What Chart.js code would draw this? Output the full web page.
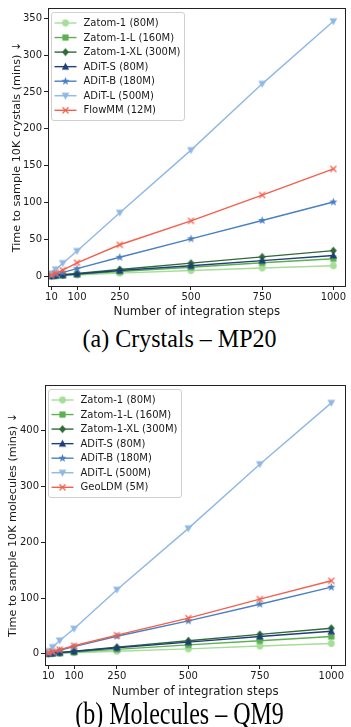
<!DOCTYPE html>
<html>
<head>
<meta charset="utf-8">
<script src="https://cdn.jsdelivr.net/npm/chart.js@4/dist/chart.umd.min.js"></script>
<style>
  html, body { margin: 0; padding: 0; background: #fff; }
  body { width: 351px; height: 727px; position: relative; overflow: hidden; }
  .box { position: absolute; left: 0; width: 351px; }
  .cap { position: absolute; left: 0; width: 359px; text-align: center;
         font-family: "Liberation Serif", "Times New Roman", serif; font-size: 24px;
         line-height: 28px; color: #000; white-space: nowrap; transform-origin: 50% 22px; }
</style>
</head>
<body>
<div class="box" style="top:0;height:322px"><canvas id="c1"></canvas></div>
<div class="cap" style="top:325px;transform:scaleY(1.08)">(a) Crystals – MP20</div>
<div class="box" style="top:370px;height:332px"><canvas id="c2"></canvas></div>
<div class="cap" style="top:702px;transform:scaleY(1.3)">(b) Molecules – QM9</div>
<script>
// ---------- data ----------
const steps = [10, 25, 50, 100, 250, 500, 750, 1000];
const xTickValues = [10, 100, 250, 500, 750, 1000];

const crystalLabels = ["Zatom-1 (80M)", "Zatom-1-L (160M)", "Zatom-1-XL (300M)", "ADiT-S (80M)", "ADiT-B (180M)", "ADiT-L (500M)", "FlowMM (12M)"];
const crysZatom1   = [0.2, 0.4, 0.8, 1.5, 4, 7.5, 11, 14];
const crysZatom1L  = [0.3, 0.6, 1.2, 2.4, 6, 12, 18, 23.5];
const crysZatom1XL = [0.4, 0.9, 1.8, 3.5, 9, 17.5, 26, 34.5];
const crysAditS    = [0.3, 0.7, 1.4, 2.8, 7.5, 14, 21, 28];
const crysAditB    = [1, 2.5, 5, 10, 25.5, 50.5, 75.5, 100.5];
const crysAditL    = [3.5, 9, 17.5, 34, 86, 171, 261, 346];
const crysFlowMM   = [1.5, 4, 8, 18, 42.5, 75, 110, 145.5];
const crysYTicks   = [0, 50, 100, 150, 200, 250, 300, 350];

const moleculeLabels = ["Zatom-1 (80M)", "Zatom-1-L (160M)", "Zatom-1-XL (300M)", "ADiT-S (80M)", "ADiT-B (180M)", "ADiT-L (500M)", "GeoLDM (5M)"];
const molZatom1   = [0.2, 0.5, 1, 2, 4.7, 9, 14, 18.5];
const molZatom1L  = [0.3, 0.8, 1.6, 3.2, 8, 16, 23.5, 31];
const molZatom1XL = [0.5, 1.2, 2.4, 4.8, 12, 23.5, 35, 46];
const molAditS    = [0.4, 1, 2.1, 4.2, 11, 21, 31, 40.5];
const molAditB    = [1.2, 3, 6.5, 13, 31.5, 59, 89, 119.5];
const molAditL    = [5, 12, 24, 45, 115, 225, 340, 450];
const molGeoLDM   = [2, 4, 7.5, 14.5, 33.5, 64, 98, 131];
const molYTicks   = [0, 100, 200, 300, 400];

// ---------- styles ----------
const seriesColors = ["#a6dd98", "#5cb04f", "#2f6a38", "#1f3f78", "#4a7fc3", "#8fb8e3", "#f4604c"];
const seriesMarkers = ["circle", "square", "diamond", "triangle", "star", "tridown", "x"];

function makeMarker(type, color) {
  const s = 11, c = s / 2;
  const cv = document.createElement("canvas");
  cv.width = s; cv.height = s;
  const g = cv.getContext("2d");
  g.fillStyle = color; g.strokeStyle = color;
  g.beginPath();
  if (type === "circle") {
    g.arc(c, c, 3.4, 0, Math.PI * 2); g.fill();
  } else if (type === "square") {
    g.rect(c - 3.1, c - 3.1, 6.2, 6.2); g.fill();
  } else if (type === "diamond") {
    g.moveTo(c, c - 4); g.lineTo(c + 3.5, c); g.lineTo(c, c + 4); g.lineTo(c - 3.5, c); g.closePath(); g.fill();
  } else if (type === "triangle") {
    g.moveTo(c, c - 3.9); g.lineTo(c + 3.7, c + 2.9); g.lineTo(c - 3.7, c + 2.9); g.closePath(); g.fill();
  } else if (type === "tridown") {
    g.moveTo(c, c + 3.9); g.lineTo(c + 3.9, c - 3); g.lineTo(c - 3.9, c - 3); g.closePath(); g.fill();
  } else if (type === "star") {
    for (let i = 0; i < 10; i++) {
      const r = i % 2 === 0 ? 4.3 : 1.8;
      const a = -Math.PI / 2 + i * Math.PI / 5;
      const px = c + r * Math.cos(a), py = c + r * Math.sin(a);
      if (i === 0) g.moveTo(px, py); else g.lineTo(px, py);
    }
    g.closePath(); g.fill();
  } else if (type === "x") {
    g.lineWidth = 1.3;
    g.moveTo(c - 3, c - 3); g.lineTo(c + 3, c + 3);
    g.moveTo(c + 3, c - 3); g.lineTo(c - 3, c + 3); g.stroke();
  }
  return cv;
}

function buildDatasets(labels, seriesList) {
  const n = seriesList.length;
  return seriesList.map((vals, i) => ({
    label: labels[i],
    data: steps.map((x, k) => ({ x: x, y: vals[k] })),
    borderColor: seriesColors[i],
    backgroundColor: seriesColors[i],
    borderWidth: 1.4,
    pointStyle: makeMarker(seriesMarkers[i], seriesColors[i]),
    tension: 0,
    fill: false,
    order: n - 1 - i
  }));
}

const FONT = "'DejaVu Sans', Verdana, sans-serif";

const framePlugin = {
  id: "frameLegend",
  afterDraw(chart) {
    const ctx = chart.ctx, a = chart.chartArea;
    ctx.save();
    // legend
    const ds = chart.data.datasets;
    const bx = Math.round(a.left + 3) + 0.5, by = Math.round(a.top + 4) + 0.5;
    const bw = 133, bh = 108;
    ctx.beginPath();
    if (ctx.roundRect) ctx.roundRect(bx, by, bw, bh, 2.5); else ctx.rect(bx, by, bw, bh);
    ctx.fillStyle = "rgba(255,255,255,0.85)";
    ctx.fill();
    ctx.strokeStyle = "#d0d0d0";
    ctx.lineWidth = 1;
    ctx.stroke();
    ctx.font = "10px " + FONT;
    ctx.textBaseline = "middle";
    ctx.textAlign = "left";
    for (let i = 0; i < ds.length; i++) {
      const y = by + 10.5 + i * 14.55;
      ctx.strokeStyle = ds[i].borderColor;
      ctx.lineWidth = 1.4;
      ctx.beginPath();
      ctx.moveTo(bx + 3, y); ctx.lineTo(bx + 25, y); ctx.stroke();
      const img = ds[i].pointStyle;
      ctx.drawImage(img, bx + 14 - img.width / 2, y - img.height / 2);
      ctx.fillStyle = "#1a1a1a";
      ctx.fillText(ds[i].label, bx + 32, y + 0.5);
    }
    // frame
    ctx.strokeStyle = "#222";
    ctx.lineWidth = 1;
    ctx.strokeRect(Math.round(a.left) + 0.5, Math.round(a.top) + 0.5,
                   Math.round(a.right - a.left) - 1, Math.round(a.bottom - a.top));
    ctx.restore();
  }
};

function makeChart(id, labels, seriesList, yTicks, yMin, yMax, xMin, xMax, yTitle, yAxisW, xAxisH, pad, yTitlePad) {
  new Chart(document.getElementById(id), {
    type: "line",
    data: { datasets: buildDatasets(labels, seriesList) },
    options: {
      responsive: true,
      maintainAspectRatio: false,
      animation: false,
      events: [],
      layout: { padding: pad },
      plugins: { legend: { display: false }, tooltip: { enabled: false } },
      scales: {
        x: {
          type: "linear", min: xMin, max: xMax,
          afterBuildTicks: (ax) => { ax.ticks = xTickValues.map(v => ({ value: v })); },
          afterFit: (sc) => { sc.height = xAxisH; },
          ticks: { color: "#1a1a1a", font: { family: FONT, size: 10 }, padding: 1, maxRotation: 0, autoSkip: false,
                   callback: (v) => String(v) },
          grid: { display: true, drawOnChartArea: false, drawTicks: true, tickLength: 4, color: "#222", tickColor: "#222" },
          border: { display: false },
          title: { display: true, text: "Number of integration steps", color: "#1a1a1a",
                   font: { family: FONT, size: 11.8 }, padding: { top: 1, bottom: 3 } }
        },
        y: {
          type: "linear", min: yMin, max: yMax,
          afterBuildTicks: (ax) => { ax.ticks = yTicks.map(v => ({ value: v })); },
          afterFit: (sc) => { sc.width = yAxisW; },
          ticks: { color: "#1a1a1a", font: { family: FONT, size: 10 }, padding: 2, autoSkip: false,
                   callback: (v) => String(v) },
          grid: { display: true, drawOnChartArea: false, drawTicks: true, tickLength: 4, color: "#222", tickColor: "#222" },
          border: { display: false },
          title: { display: true, text: yTitle, color: "#1a1a1a",
                   font: { family: FONT, size: 11.2 }, padding: { top: yTitlePad, bottom: 0 } }
        }
      }
    },
    plugins: [framePlugin]
  });
}

makeChart("c1", crystalLabels,
  [crysZatom1, crysZatom1L, crysZatom1XL, crysAditS, crysAditB, crysAditL, crysFlowMM],
  crysYTicks, -13.5, 364, -2, 1043,
  "Time to sample 10K crystals (mins) \u2193", 48, 36, { top: 5, right: 2, left: 0, bottom: 0 }, 10);

makeChart("c2", moleculeLabels,
  [molZatom1, molZatom1L, molZatom1XL, molAditS, molAditB, molAditL, molGeoLDM],
  molYTicks, -20, 482, -1.5, 1050,
  "Time to sample 10K molecules (mins) \u2193", 45, 37, { top: 15, right: 3, left: 0, bottom: 0 }, 6);
</script>
</body>
</html>
